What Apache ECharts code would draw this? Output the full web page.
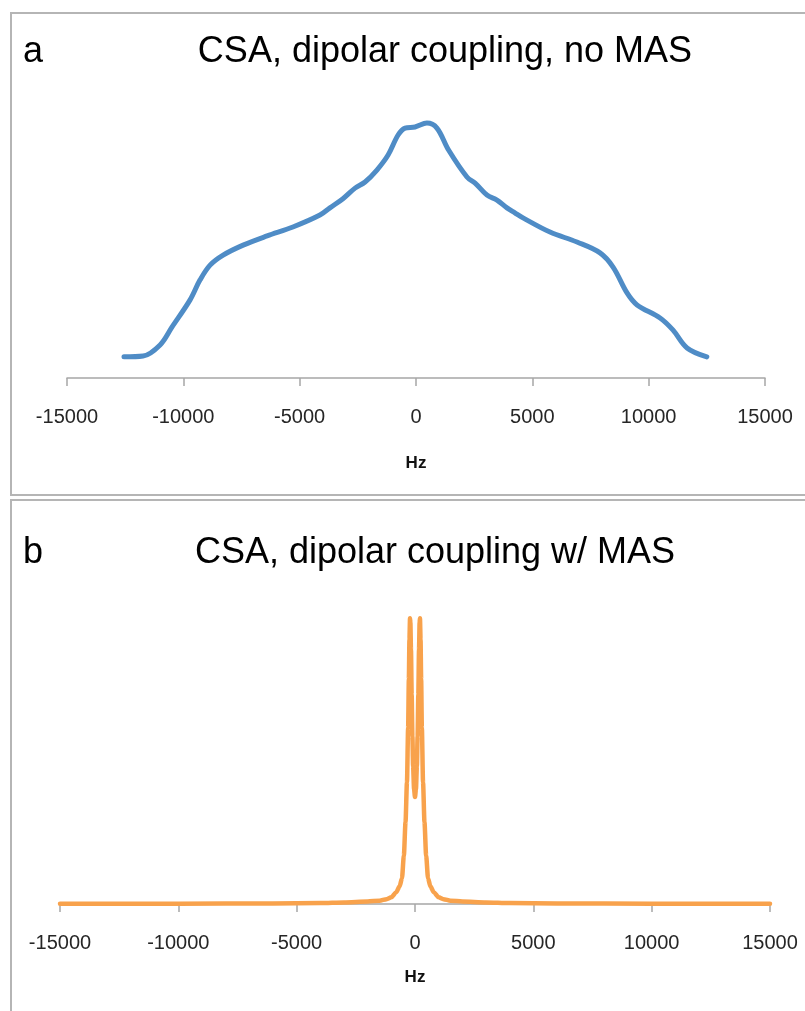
<!DOCTYPE html>
<html>
<head>
<meta charset="utf-8">
<style>
  html, body { margin: 0; padding: 0; background: #ffffff; }
  #chart { width: 805px; height: 1011px; }
</style>
<script src="https://cdn.jsdelivr.net/npm/echarts@6/dist/echarts.min.js"></script>
</head>
<body>
<div id="chart"></div>
<script>
// Panel a: static powder pattern (CSA + dipolar coupling, no MAS)
const staticHz = [-12550, -11730, -11000, -10490, -9710, -9280, -8850, -8290, -7430, -6400,
  -5290, -4130, -3700, -3140, -2620, -2190, -1680, -1200, -770, -470,
  -40, 470, 900, 1400, 2190, 2540, 3050, 3480, 3910, 4250,
  4600, 5760, 6920, 7910, 8470, 9070, 9500, 10490, 11040, 11650, 12500];
const staticIntensity = [0.076, 0.079, 0.119, 0.183, 0.281, 0.353, 0.406, 0.442, 0.478, 0.511,
  0.543, 0.586, 0.612, 0.645, 0.683, 0.705, 0.748, 0.802, 0.874, 0.899,
  0.903, 0.917, 0.899, 0.820, 0.723, 0.701, 0.658, 0.640, 0.612, 0.594,
  0.576, 0.525, 0.489, 0.450, 0.399, 0.306, 0.263, 0.216, 0.173, 0.108, 0.076];

// Panel b: spectrum under magic-angle spinning (split central line)
const masHz = [-15000, -10000, -6000, -4000, -3000, -2000, -1500, -1200, -1000, -800,
  -650, -550, -470, -400, -340, -290, -260, -235, -210, -195,
  -170, -140, -110, -80, -40, 0, 40, 80, 110, 140,
  170, 195, 210, 235, 260, 290, 340, 400, 470, 550,
  650, 800, 1000, 1200, 1500, 2000, 3000, 4000, 6000, 10000, 15000];
const masIntensity = [0.001, 0.001, 0.002, 0.003, 0.005, 0.008, 0.011, 0.016, 0.022, 0.038,
  0.058, 0.085, 0.160, 0.270, 0.400, 0.580, 0.740, 0.870, 0.940, 0.926,
  0.838, 0.688, 0.552, 0.454, 0.378, 0.352, 0.378, 0.454, 0.552, 0.688,
  0.838, 0.926, 0.940, 0.870, 0.740, 0.580, 0.400, 0.270, 0.160, 0.085,
  0.058, 0.038, 0.022, 0.016, 0.011, 0.008, 0.005, 0.003, 0.002, 0.001, 0.001];

const hzTicks = [-15000, -10000, -5000, 0, 5000, 10000, 15000];
const panelLetters = ['a', 'b'];
const panelTitles = ['CSA, dipolar coupling, no MAS', 'CSA, dipolar coupling w/ MAS'];
const axisTitle = 'Hz';

const pairs = (xs, ys) => xs.map((x, i) => [x, ys[i]]);

const chart = echarts.init(document.getElementById('chart'), null, { renderer: 'canvas' });

const labelFont = { fontFamily: 'Liberation Sans', fontSize: 20, color: '#262626' };

function xAxisFor(gridIndex, gap) {
  return {
    type: 'value', gridIndex: gridIndex,
    min: hzTicks[0], max: hzTicks[hzTicks.length - 1], interval: 5000,
    splitLine: { show: false },
    axisLine: { show: true, onZero: false, lineStyle: { color: '#a6a6a6', width: 1.5 } },
    axisTick: { show: true, inside: false, length: 8, lineStyle: { color: '#a6a6a6', width: 1.5 } },
    axisLabel: Object.assign({
      margin: 29, showMinLabel: true, showMaxLabel: true,
      formatter: v => String(v)
    }, labelFont),
    name: axisTitle, nameLocation: 'middle', nameGap: gap,
    nameTextStyle: { fontFamily: 'Liberation Sans', fontSize: 17, fontWeight: 'bold', color: '#111' }
  };
}

const titleStyle = { fontFamily: 'Liberation Sans', fontSize: 36, fontWeight: 'normal', color: '#111' };

chart.setOption({
  animation: false,
  backgroundColor: '#ffffff',
  grid: [
    { left: 67, width: 698, top: 100, height: 278 },
    { left: 60, width: 710, top: 600, height: 304 }
  ],
  xAxis: [xAxisFor(0, 77), xAxisFor(1, 65)],
  yAxis: [
    { type: 'value', gridIndex: 0, min: 0, max: 1, show: false },
    { type: 'value', gridIndex: 1, min: 0, max: 1, show: false }
  ],
  graphic: [
    { type: 'rect', shape: { x: 11, y: 13, width: 800, height: 482 },
      style: { fill: 'none', stroke: '#b5b5b5', lineWidth: 2 }, z: -1 },
    { type: 'rect', shape: { x: 11, y: 500, width: 800, height: 530 },
      style: { fill: 'none', stroke: '#b5b5b5', lineWidth: 2 }, z: -1 },
    { type: 'text', left: 23, top: 34, style: Object.assign({ text: panelLetters[0] }, titleStyle) },
    { type: 'text', left: 23, top: 535, style: Object.assign({ text: panelLetters[1] }, titleStyle) },
    { type: 'text', x: 445, y: 52, style: Object.assign({ text: panelTitles[0], textAlign: 'center', textVerticalAlign: 'middle' }, titleStyle) },
    { type: 'text', x: 435, y: 553, style: Object.assign({ text: panelTitles[1], textAlign: 'center', textVerticalAlign: 'middle' }, titleStyle) }
  ],
  series: [
    {
      type: 'line', xAxisIndex: 0, yAxisIndex: 0,
      data: pairs(staticHz, staticIntensity),
      smooth: 0.35, showSymbol: false,
      lineStyle: { color: '#4f8cc6', width: 5, cap: 'round', join: 'round' }
    },
    {
      type: 'line', xAxisIndex: 1, yAxisIndex: 1,
      data: pairs(masHz, masIntensity),
      smooth: 0.25, smoothMonotone: 'x', showSymbol: false,
      lineStyle: { color: '#f8a24c', width: 4.5, cap: 'round', join: 'round' }
    }
  ]
});
</script>
</body>
</html>
